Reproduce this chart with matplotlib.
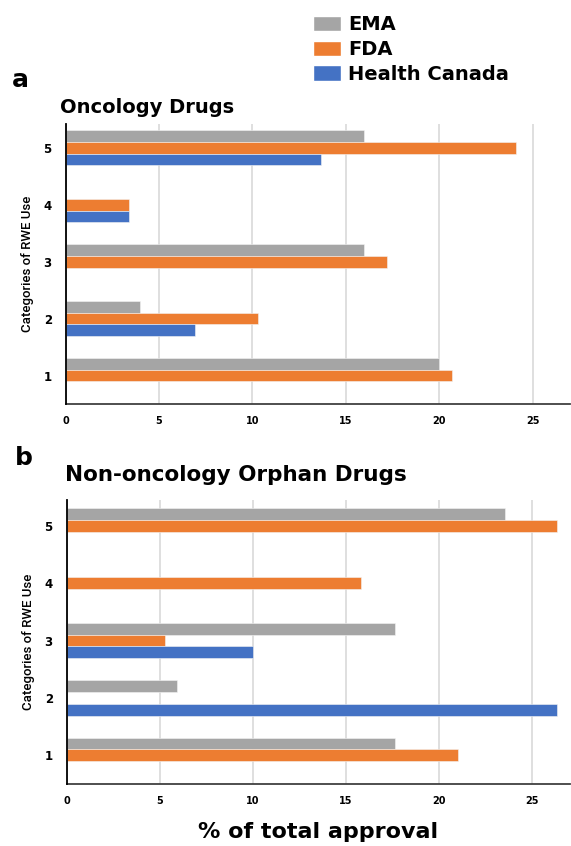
import numpy as np
import matplotlib
matplotlib.use('Agg')
import matplotlib.pyplot as plt
from matplotlib.patches import Patch

cats = [1, 2, 3, 4, 5]
agencies = ['EMA', 'FDA', 'Health Canada']
colors = ['#a5a5a5', '#ed7d31', '#4472c4']

# panel a: oncology drugs (% of total approval)
onc_ema = [20.0, 4.0, 16.0, 0.0, 16.0]
onc_fda = [20.7, 10.3, 17.2, 3.4, 24.1]
onc_hc = [0.0, 6.9, 0.0, 3.4, 13.7]

# panel b: non-oncology orphan drugs
orph_ema = [17.6, 5.9, 17.6, 0.0, 23.5]
orph_fda = [21.0, 0.0, 5.3, 15.8, 26.3]
orph_hc = [0.0, 26.3, 10.0, 0.0, 0.0]

xticks = [0, 5, 10, 15, 20, 25]

fig = plt.figure(figsize=(5.71, 8.46), dpi=100)
ax1 = fig.add_axes([0.115, 0.5225, 0.883, 0.331])
ax2 = fig.add_axes([0.1168, 0.0733, 0.881, 0.3357])

h = 0.205
y = np.array(cats)


def draw(ax, ema, fda, hc, ylim):
    for vals, off, c in zip([ema, fda, hc], [h, 0, -h], colors):
        ax.barh(y + off, vals, height=h, color=c, edgecolor='#f4f4f4',
                linewidth=0.4, zorder=2)
    ax.set_xlim(0, 27)
    ax.set_ylim(*ylim)
    ax.set_xticks(xticks)
    ax.set_yticks(cats)
    ax.grid(axis='x', color='#d9d9d9', linewidth=1.2, zorder=0)
    ax.set_axisbelow(True)
    for s in ['top', 'right']:
        ax.spines[s].set_visible(False)
    ax.spines['left'].set_color('black')
    ax.spines['left'].set_linewidth(1.3)
    ax.spines['left'].set_zorder(4)
    ax.spines['bottom'].set_color('#404040')
    ax.spines['bottom'].set_linewidth(1.3)
    ax.tick_params(axis='x', length=0, pad=9, labelsize=7)
    ax.tick_params(axis='y', length=0, pad=10, labelsize=8.5)
    for lab in ax.get_xticklabels() + ax.get_yticklabels():
        lab.set_fontweight('bold')
    ax.set_ylabel('Categories of RWE Use', family='Roboto', fontsize=9.5,
                  fontweight='medium', labelpad=7)


draw(ax1, onc_ema, onc_fda, onc_hc, (0.5, 5.42))
draw(ax2, orph_ema, orph_fda, orph_hc, (0.5, 5.45))

fig.text(0.02, 0.897, 'a', fontsize=18, fontweight='bold')
fig.text(0.105, 0.867, 'Oncology Drugs', fontsize=14, fontweight='bold')
fig.text(0.026, 0.45, 'b', fontsize=18, fontweight='bold')
fig.text(0.113, 0.432, 'Non-oncology Orphan Drugs', fontsize=15.5,
         fontweight='bold')

ax2.set_xlabel('% of total approval', fontsize=16, fontweight='bold',
               labelpad=11)

handles = [Patch(facecolor=c, edgecolor='white') for c in colors]
fig.legend(handles, agencies, loc='upper left',
           bbox_to_anchor=(0.548, 0.982),
           frameon=False, prop={'weight': 'bold', 'size': 14},
           handlelength=1.45, handleheight=0.85, handletextpad=0.35,
           labelspacing=0.3, borderpad=0, borderaxespad=0)

fig.savefig('out.png', dpi=100)
